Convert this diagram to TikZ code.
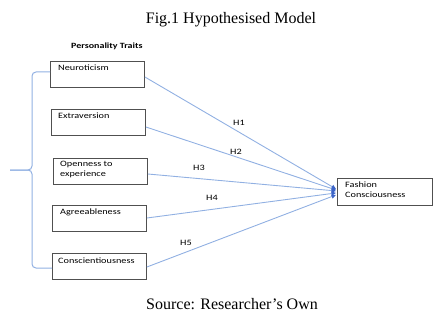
\documentclass[tikz,border=0pt]{standalone}
\usepackage{fontspec}
\setmainfont{Liberation Serif}
\newfontfamily\calfont{Carlito}
\usetikzlibrary{arrows.meta,calc}
\definecolor{linkblue}{RGB}{145,176,226}
\definecolor{tipblue}{RGB}{60,100,200}
\definecolor{boxgray}{RGB}{80,80,80}
\newcommand{\wide}[1]{\scalebox{1.25}[1]{#1}}
\begin{document}
\begin{tikzpicture}[x=1pt,y=-1pt,
  boxnode/.style={draw=boxgray, line width=0.9pt, rectangle, minimum width=94pt, minimum height=26pt, inner sep=0pt, anchor=north west},
  boxtext/.style={font=\calfont\fontsize{8.2}{9.5}\selectfont, inner sep=0pt, align=left, text=black},
  hlabel/.style={font=\calfont\fontsize{8.2}{9.5}\selectfont, inner sep=0pt, text=black},
  link/.style={draw=linkblue, line width=0.9pt, -{Triangle[length=4.5pt,width=4pt,color=tipblue]}},
  bracepath/.style={draw=linkblue, line width=1pt, rounded corners=4pt},
  captiontext/.style={font=\fontsize{16}{18}\selectfont, inner sep=0pt, anchor=base}]
\useasboundingbox (0,0) rectangle (443,331);

\node[captiontext] (title) at (231,24) {Fig.1 Hypothesised Model};
\node[captiontext] (source) at (232,309) {Source: Researcher’s Own};

\node[font=\calfont\bfseries\fontsize{8}{9.5}\selectfont, inner sep=0pt, anchor=west] (ptitle) at (71,46) {\wide{Personality Traits}};

\node[boxnode] (neu) at (50,61) {};
\node[boxnode] (ext) at (51,109) {};
\node[boxnode] (ope) at (53,158) {};
\node[boxnode] (agr) at (52,205) {};
\node[boxnode] (con) at (52,253) {};
\node[boxnode, minimum width=95pt, minimum height=27pt] (fas) at (337,178) {};

\node[boxtext, anchor=west] (neut) at ($(neu.north west)+(8,7)$) {\wide{Neuroticism}};
\node[boxtext, anchor=west] (extt) at ($(ext.north west)+(7,7)$) {\wide{Extraversion}};
\node[boxtext, anchor=north west] (opet) at ($(ope.north west)+(7,3)$) {\wide{Openness to}\\\wide{experience}};
\node[boxtext, anchor=west] (agrt) at ($(agr.north west)+(8,7)$) {\wide{Agreeableness}};
\node[boxtext, anchor=west] (cont) at ($(con.north west)+(6,8)$) {\wide{Conscientiousness}};
\node[boxtext, anchor=north west] (fast) at ($(fas.north west)+(8,4)$) {\wide{Fashion}\\\wide{Consciousness}};

\coordinate (e1) at ($(fas.west)+(-1,-3)$);
\coordinate (e2) at ($(fas.west)+(-1,-2)$);
\coordinate (e3) at ($(fas.west)+(-1,-1)$);
\coordinate (e4) at ($(fas.west)+(-1,1)$);
\coordinate (e5) at ($(fas.west)+(-1,3)$);

\draw[link] ($(neu.north east)+(0,16)$) -- (e1);
\draw[link] ($(ext.north east)+(0,18)$) -- (e2);
\draw[link] ($(ope.north east)+(0,16)$) -- (e3);
\draw[link] ($(agr.north east)+(0,13)$) -- (e4);
\draw[link] ($(con.north east)+(0,14)$) -- (e5);

\node[hlabel] (h1) at (239,123) {\wide{H1}};
\node[hlabel] (h2) at (236,152) {\wide{H2}};
\node[hlabel] (h3) at (199,168) {\wide{H3}};
\node[hlabel] (h4) at (212,198) {\wide{H4}};
\node[hlabel] (h5) at (186,243) {\wide{H5}};

\coordinate (btip) at (10,170);
\draw[bracepath] ($(neu.north west)+(0,11)$) -- (32,72) -- (32,170) -- (btip);
\draw[bracepath] ($(con.north west)+(0,15)$) -- (32,268) -- (32,170) -- (btip);
\end{tikzpicture}
\end{document}
